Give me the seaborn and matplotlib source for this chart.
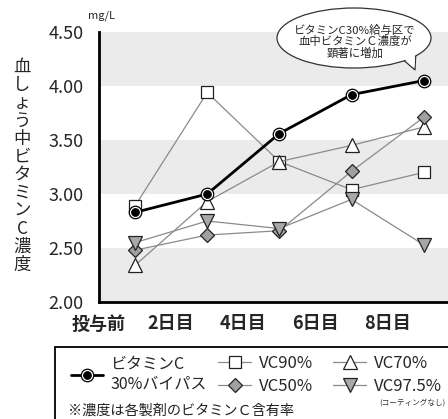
import matplotlib
matplotlib.use("Agg")
import matplotlib.pyplot as plt
import matplotlib.patches as mpatches
from matplotlib.legend_handler import HandlerTuple
import seaborn as sns
import pandas as pd

sns.set_style("white")
plt.rcParams["font.family"] = ["Noto Sans CJK JP", "DejaVu Sans"]

# Blood vitamin C concentration (mg/L) by sampling day
days = [1, 3, 5, 7, 9]
vc30_bypass = [2.83, 3.00, 3.56, 3.92, 4.05]
vc90 = [2.89, 3.94, 3.30, 3.04, 3.20]
vc70 = [2.34, 2.93, 3.30, 3.45, 3.62]
vc50 = [2.48, 2.62, 2.66, 3.21, 3.71]
vc975 = [2.55, 2.75, 2.68, 2.95, 2.53]

tick_pos = [0, 2, 4, 6, 8]
tick_labels = ["投与前", "2日目", "4日目", "6日目", "8日目"]
y_ticks = [2.0, 2.5, 3.0, 3.5, 4.0, 4.5]

series_names = ["VC90%", "VC70%", "VC50%", "VC97.5%"]
series_values = [vc90, vc70, vc50, vc975]

df = pd.DataFrame({
    "day": days * 4,
    "conc": sum(series_values, []),
    "series": [n for n in series_names for _ in days],
})

W, H = 448, 419
fig = plt.figure(figsize=(W / 100, H / 100), dpi=100)


def fpt(px, py):
    """Pixel position (from top-left) to figure fraction."""
    return px / W, 1 - py / H


ax = fig.add_axes([99 / W, 1 - 302 / H, 1 - 99 / W + 0.002, (302 - 32) / H])

# alternating background bands
for lo in (2.0, 3.0, 4.0):
    ax.axhspan(lo, lo + 0.5, color="#ebebeb", lw=0, zorder=0)

gray_line = "#8a8a8a"
styles = {
    "VC90%": dict(marker="s", markerfacecolor="white", markersize=9),
    "VC70%": dict(marker="^", markerfacecolor="white", markersize=10.5),
    "VC50%": dict(marker="D", markerfacecolor="#a0a0a0", markersize=7.5),
    "VC97.5%": dict(marker="v", markerfacecolor="#a8a8a8", markersize=10.5),
}

handles = {}
for name in series_names:
    sub = df[df["series"] == name]
    sns.lineplot(data=sub, x="day", y="conc", ax=ax, color=gray_line, lw=0.9,
                 markeredgecolor="#222222", markeredgewidth=0.9,
                 zorder=3, legend=False, **styles[name])
    handles[name] = ax.lines[-1]

sns.lineplot(x=days, y=vc30_bypass, ax=ax, color="black", lw=2.0,
             marker="o", markersize=9, markerfacecolor="white",
             markeredgecolor="black", markeredgewidth=0.9, zorder=5, legend=False)
outer = ax.lines[-1]
sns.lineplot(x=days, y=vc30_bypass, ax=ax, color="black", lw=0,
             marker="o", markersize=5.5, markerfacecolor="black",
             markeredgecolor="black", zorder=6, legend=False)
inner = ax.lines[-1]

ax.set_xlim(0, 9.7)
ax.set_ylim(2.0, 4.5)
ax.set_xticks(tick_pos)
ax.set_xticklabels(tick_labels, fontsize=13, fontweight="bold")
ax.set_yticks(y_ticks)
ax.set_yticklabels([f"{v:.2f}" for v in y_ticks], fontsize=13)
ax.tick_params(axis="both", direction="in", length=4, width=1.5, color="black")
ax.tick_params(axis="x", pad=9)
ax.tick_params(axis="y", pad=11)
ax.set_xlabel("")
ax.set_ylabel("")
for side in ("top", "right"):
    ax.spines[side].set_visible(False)
for side in ("left", "bottom"):
    ax.spines[side].set_linewidth(2)
    ax.spines[side].set_color("black")

# vertical axis title written top to bottom
fig.text(*fpt(22, 166), "\n".join("血しょう中ビタミンC濃度"),
         ha="center", va="center", fontsize=12.5, linespacing=1.0)
fig.text(*fpt(101, 16), "mg/L", ha="center", va="center", fontsize=8)

# speech bubble: tail, ellipse, then a borderless patch hiding the seam
edge = "#333333"
tail_pts = [fpt(400, 57), fpt(416, 50), fpt(415, 70)]
fig.patches.append(mpatches.Polygon(tail_pts, closed=True, fc="white", ec=edge,
                                    lw=0.9, transform=fig.transFigure, zorder=5))
fig.patches.append(mpatches.Ellipse(fpt(354, 38), 154 / W, 60 / H, fc="white",
                                    ec=edge, lw=0.9, transform=fig.transFigure,
                                    zorder=6))
seam_pts = [fpt(401.6, 57.5), fpt(415.1, 51.5), fpt(414.6, 66.5)]
fig.patches.append(mpatches.Polygon(seam_pts, closed=True, fc="white", ec="none",
                                    transform=fig.transFigure, zorder=7))
fig.text(*fpt(355, 42), "ビタミンC30%給与区で\n血中ビタミンＣ濃度が\n顕著に増加",
         ha="center", va="center", fontsize=8.2, linespacing=1.02, zorder=8)

# legend panel
fig.patches.append(mpatches.Rectangle((55 / W, -0.1), 1, 0.1 + (H - 347) / H,
                                      transform=fig.transFigure, fill=False,
                                      ec="black", lw=1.3))

leg_kw = dict(frameon=False, borderpad=0, borderaxespad=0,
              handlelength=2.0, handletextpad=0.45, labelspacing=0.35,
              loc="center left")
fig.legend([(outer, inner)], ["ビタミンC\n30%バイパス"],
           handler_map={tuple: HandlerTuple(ndivide=1, pad=0)},
           bbox_to_anchor=fpt(71, 374), fontsize=11.5, **leg_kw)
fig.legend([handles["VC90%"], handles["VC50%"]], ["VC90%", "VC50%"],
           bbox_to_anchor=fpt(218, 375), fontsize=12, **leg_kw)
fig.legend([handles["VC70%"], handles["VC97.5%"]], ["VC70%", "VC97.5%"],
           bbox_to_anchor=fpt(333, 375), fontsize=12, **leg_kw)
fig.text(*fpt(412, 403), "(コーティングなし)", ha="center", va="center",
         fontsize=5.5, color="#333333")
fig.text(*fpt(68, 411), "※濃度は各製剤のビタミンＣ含有率",
         ha="left", va="center", fontsize=10.2, color="#222222")

fig.savefig("out.png", dpi=100)
